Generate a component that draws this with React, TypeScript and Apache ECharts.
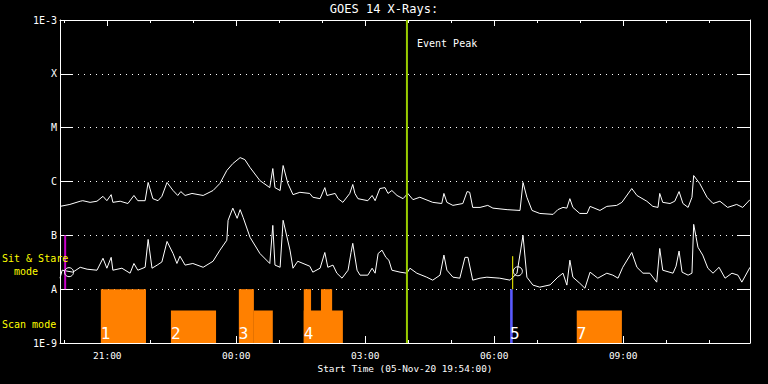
import React, { useEffect, useRef } from 'react';
import * as echarts from 'echarts';

// time axis: hours after 05-Nov-20 00:00 UT
const START_HOUR = 19.9; // 19:54:00
const END_HOUR = 35.95;

const yTickExponents = [-9, -8, -7, -6, -5, -4, -3];
const yTickLabels = ['1E-9', 'A', 'B', 'C', 'M', 'X', '1E-3'];
const xMajorHours = [21, 24, 27, 30, 33];
const xTickLabels = ['21:00', '00:00', '03:00', '06:00', '09:00'];
const xMinorHours = [20, 21, 22, 23, 24, 25, 26, 27, 28, 29, 30, 31, 32, 33, 34, 35];

// GOES 14 long channel (1-8 A), W/m^2
const longChannel: [number, number][] = [
  [19.90, 3.45e-7], [20.13, 3.75e-7], [20.37, 4.3e-7], [20.43, 4.4e-7], [20.60, 4.1e-7], [20.76, 4.3e-7],
  [20.90, 5.3e-7], [20.99, 4.4e-7], [21.09, 5.7e-7], [21.13, 4.1e-7], [21.30, 4.3e-7], [21.48, 3.9e-7],
  [21.62, 5.5e-7], [21.71, 4.4e-7], [21.88, 4.4e-7], [21.95, 9.6e-7], [22.06, 4.8e-7], [22.18, 4.4e-7],
  [22.27, 5.3e-7], [22.39, 9.6e-7], [22.53, 6.8e-7], [22.64, 5.5e-7], [22.71, 6.5e-7], [22.81, 5.5e-7],
  [22.97, 6.0e-7], [23.23, 5.5e-7], [23.46, 6.8e-7], [23.62, 9.2e-7], [23.78, 1.6e-6], [23.92, 2.15e-6],
  [24.09, 2.78e-6], [24.20, 2.55e-6], [24.32, 1.82e-6], [24.55, 1.04e-6], [24.78, 7.7e-7], [24.85, 1.74e-6],
  [24.90, 7.7e-7], [25.02, 6.8e-7], [25.09, 1.98e-6], [25.20, 9.2e-7], [25.32, 5.7e-7], [25.48, 6.3e-7],
  [25.71, 6.0e-7], [25.78, 5.1e-7], [25.95, 4.8e-7], [26.06, 7.7e-7], [26.11, 5.5e-7], [26.30, 6.0e-7],
  [26.37, 4.8e-7], [26.48, 4.1e-7], [26.64, 6.0e-7], [26.71, 8.8e-7], [26.76, 6.0e-7], [26.83, 4.8e-7],
  [27.06, 4.4e-7], [27.16, 5.5e-7], [27.23, 4.4e-7], [27.34, 7.4e-7], [27.46, 7.7e-7], [27.53, 6.0e-7],
  [27.62, 6.8e-7], [27.74, 5.5e-7], [27.88, 4.8e-7], [27.99, 6.0e-7], [28.11, 4.6e-7], [28.27, 5.1e-7],
  [28.57, 4.1e-7], [28.78, 3.9e-7], [28.83, 6.0e-7], [28.90, 4.1e-7], [29.04, 3.6e-7], [29.27, 3.9e-7],
  [29.37, 6.5e-7], [29.43, 6.3e-7], [29.50, 3.3e-7], [29.67, 3.3e-7], [29.85, 3.6e-7], [29.97, 3.2e-7],
  [30.30, 3.0e-7], [30.60, 2.9e-7], [30.67, 9.6e-7], [30.76, 5.1e-7], [30.88, 2.9e-7], [31.06, 2.55e-7],
  [31.37, 2.45e-7], [31.48, 3.0e-7], [31.60, 3.3e-7], [31.69, 3.2e-7], [31.76, 4.8e-7], [31.83, 3.3e-7],
  [31.99, 2.55e-7], [32.16, 2.55e-7], [32.23, 3.45e-7], [32.46, 2.9e-7], [32.62, 3.45e-7], [32.85, 3.6e-7],
  [32.97, 4.1e-7], [33.20, 7.4e-7], [33.32, 5.5e-7], [33.55, 4.3e-7], [33.69, 3.45e-7], [33.81, 3.3e-7],
  [33.85, 6.0e-7], [33.92, 4.1e-7], [34.09, 3.9e-7], [34.20, 4.3e-7], [34.30, 6.5e-7], [34.39, 3.9e-7],
  [34.51, 3.3e-7], [34.60, 5.1e-7], [34.64, 1.29e-6], [34.78, 9.2e-7], [34.95, 5.1e-7], [35.09, 3.9e-7],
  [35.25, 4.3e-7], [35.43, 3.3e-7], [35.64, 3.75e-7], [35.78, 3.3e-7], [35.95, 4.6e-7],
];

// GOES 14 short channel (0.5-4 A), W/m^2
const shortChannel: [number, number][] = [
  [19.90, 1.6e-8], [19.95, 2.25e-8], [20.20, 2.07e-8], [20.37, 2.55e-8], [20.53, 2.35e-8], [20.76, 2.25e-8],
  [20.90, 3.75e-8], [20.99, 2.45e-8], [21.09, 3.9e-8], [21.13, 2.25e-8], [21.34, 2.45e-8], [21.53, 1.98e-8],
  [21.62, 3.0e-8], [21.71, 2.25e-8], [21.88, 2.55e-8], [21.95, 8.4e-8], [22.04, 2.45e-8], [22.16, 2.8e-8],
  [22.27, 3.2e-8], [22.39, 7.7e-8], [22.53, 4.6e-8], [22.62, 3.0e-8], [22.69, 4.1e-8], [22.81, 2.8e-8],
  [22.99, 3.0e-8], [23.23, 2.55e-8], [23.46, 3.3e-8], [23.62, 5.3e-8], [23.78, 8.1e-8], [23.81, 1.9e-7],
  [23.92, 3.2e-7], [24.02, 2.07e-7], [24.09, 3.0e-7], [24.16, 2.15e-7], [24.32, 9.2e-8], [24.55, 4.6e-8],
  [24.78, 3.0e-8], [24.85, 1.53e-7], [24.90, 2.8e-8], [25.02, 2.55e-8], [25.09, 1.9e-7], [25.25, 5.3e-8],
  [25.32, 2.45e-8], [25.43, 3.3e-8], [25.71, 2.67e-8], [25.78, 2.07e-8], [25.95, 2.45e-8], [26.06, 4.8e-8],
  [26.13, 2.55e-8], [26.25, 2.8e-8], [26.34, 1.98e-8], [26.46, 1.6e-8], [26.60, 2.25e-8], [26.67, 4.8e-8],
  [26.71, 7.1e-8], [26.81, 2.25e-8], [26.88, 1.82e-8], [27.06, 1.82e-8], [27.16, 2.45e-8], [27.23, 1.98e-8],
  [27.30, 4.6e-8], [27.39, 5.3e-8], [27.48, 3.9e-8], [27.55, 3.45e-8], [27.62, 2.25e-8], [27.81, 2.07e-8],
  [27.97, 1.98e-8], [28.04, 2.45e-8], [28.20, 1.98e-8], [28.43, 1.67e-8], [28.57, 1.47e-8], [28.74, 1.82e-8],
  [28.83, 4.3e-8], [28.90, 2.25e-8], [29.04, 1.67e-8], [29.20, 1.6e-8], [29.32, 3.9e-8], [29.39, 3.9e-8],
  [29.50, 1.47e-8], [29.67, 1.6e-8], [29.83, 1.67e-8], [30.13, 1.6e-8], [30.37, 1.47e-8], [30.53, 1.98e-8],
  [30.67, 1.0e-7], [30.76, 1.67e-8], [30.90, 1.19e-8], [31.06, 1.09e-8], [31.30, 1.2e-8], [31.48, 1.67e-8],
  [31.60, 1.98e-8], [31.69, 1.19e-8], [31.76, 3.45e-8], [31.83, 1.67e-8], [31.99, 1.29e-8], [32.11, 1.04e-8],
  [32.23, 2.07e-8], [32.41, 1.6e-8], [32.62, 1.98e-8], [32.76, 1.82e-8], [32.88, 1.6e-8], [32.99, 2.55e-8],
  [33.20, 4.8e-8], [33.32, 2.55e-8], [33.46, 1.98e-8], [33.62, 1.98e-8], [33.78, 1.35e-8], [33.85, 5.7e-8],
  [33.92, 2.25e-8], [34.16, 1.98e-8], [34.23, 2.67e-8], [34.30, 5.1e-8], [34.37, 2.07e-8], [34.51, 1.82e-8],
  [34.60, 1.98e-8], [34.64, 1.6e-7], [34.74, 6.0e-8], [34.85, 4.3e-8], [34.97, 2.45e-8], [35.09, 1.98e-8],
  [35.23, 2.55e-8], [35.37, 1.6e-8], [35.53, 1.98e-8], [35.67, 1.82e-8], [35.76, 1.35e-8], [35.95, 2.55e-8],
];

// scan-mode blocks: [start hour, end hour, top level, label]
const scanBlocks: [number, number, number, string][] = [
  [20.85, 21.90, 1e-8, '1'],
  [22.48, 23.53, 4e-9, '2'],
  [24.41, 24.85, 4e-9, ''],
  [24.06, 24.41, 1e-8, '3'],
  [25.57, 26.48, 4e-9, '4'],
  [25.57, 25.74, 1e-8, ''],
  [25.97, 26.23, 1e-8, ''],
  [31.92, 32.97, 4e-9, '7'],
];
const sitStareBlocks: [number, number, number, string][] = [[30.37, 30.43, 1e-8, '5']];

const eventPeakHour = 27.97;
const sitStareStartHour = 20.02;
const sitStareEndHour = 30.43;
const markerPoints: [number, number][] = [[20.11, 2.07e-8], [30.55, 2.15e-8]];

const MONO = "'DejaVu Sans Mono', 'Liberation Mono', monospace";
const Y_MIN = 1e-9;
const Y_MAX = 1e-3;

function blockSeries(data: [number, number, number, string][], color: string) {
  return {
    type: 'custom',
    xAxisIndex: 0,
    yAxisIndex: 0,
    clip: true,
    data,
    renderItem: (params: any, api: any) => {
      const s = api.value(0);
      const e = api.value(1);
      const top = api.value(2);
      const label = data[params.dataIndex][3];
      const p1 = api.coord([s, top]);
      const p2 = api.coord([e, Y_MIN]);
      const children: any[] = [
        {
          type: 'rect',
          shape: { x: p1[0], y: p1[1], width: Math.max(p2[0] - p1[0], 1), height: p2[1] - p1[1] },
          style: { fill: color },
        },
      ];
      if (label) {
        children.push({
          type: 'text',
          z2: 100,
          style: {
            text: label,
            x: p1[0],
            y: p2[1] - 10,
            fill: '#ffffff',
            font: `16px ${MONO}`,
            verticalAlign: 'middle',
            align: 'left',
          },
        });
      }
      return { type: 'group', children };
    },
  };
}

function vline(x: number, y0: number, y1: number, color: string, width: number) {
  return {
    type: 'line',
    xAxisIndex: 0,
    yAxisIndex: 0,
    data: [[x, y0], [x, y1]],
    showSymbol: false,
    symbol: 'none',
    lineStyle: { color, width },
    z: 5,
  };
}

export default function App() {
  const ref = useRef<HTMLDivElement>(null);

  useEffect(() => {
    if (!ref.current) return;
    const chart = echarts.init(ref.current, undefined, { renderer: 'svg' });
    const grid = { left: 60, right: 18, top: 20, bottom: 41 };
    const hourLabel = (v: number) => {
      const i = xMajorHours.indexOf(Math.round(v));
      return i >= 0 ? xTickLabels[i] : '';
    };
    const yLabel = (v: number) => {
      const i = yTickExponents.indexOf(Math.round(Math.log10(v)));
      return i >= 0 ? yTickLabels[i] : '';
    };
    const baseX = {
      type: 'value',
      min: START_HOUR,
      max: END_HOUR,
      splitLine: { show: false },
    };
    const baseY = {
      type: 'log',
      logBase: 10,
      min: Y_MIN,
      max: Y_MAX,
      splitNumber: 6,
    };
    chart.setOption({
      animation: false,
      backgroundColor: '#000000',
      grid,
      xAxis: [
        {
          ...baseX,
          position: 'bottom',
          axisLine: { show: true, lineStyle: { color: '#ffffff', width: 1 } },
          axisTick: { show: true, inside: true, length: 7, customValues: xMajorHours, lineStyle: { color: '#ffffff' } },
          axisLabel: {
            show: true,
            customValues: xMajorHours,
            formatter: hourLabel,
            color: '#ffffff',
            fontFamily: MONO,
            fontSize: 9.5,
            margin: 7,
          },
        },
        {
          ...baseX,
          position: 'bottom',
          axisLine: { show: false },
          axisTick: { show: true, inside: true, length: 3, customValues: xMinorHours, lineStyle: { color: '#ffffff' } },
          axisLabel: { show: false },
        },
        {
          ...baseX,
          position: 'top',
          axisLine: { show: true, lineStyle: { color: '#ffffff', width: 1 } },
          axisTick: { show: true, inside: true, length: 6, customValues: xMajorHours, lineStyle: { color: '#ffffff' } },
          axisLabel: { show: false },
        },
        {
          ...baseX,
          position: 'top',
          axisLine: { show: false },
          axisTick: { show: true, inside: true, length: 3, customValues: xMinorHours, lineStyle: { color: '#ffffff' } },
          axisLabel: { show: false },
        },
      ],
      yAxis: [
        {
          ...baseY,
          position: 'left',
          axisLine: { show: true, lineStyle: { color: '#ffffff', width: 1 } },
          axisTick: { show: true, inside: true, length: 13, lineStyle: { color: '#ffffff' } },
          axisLabel: {
            show: true,
            formatter: yLabel,
            color: '#ffffff',
            fontFamily: MONO,
            fontSize: 10,
            margin: 3,
            showMinLabel: true,
            showMaxLabel: true,
          },
          minorTick: { show: false },
          splitLine: { show: true, lineStyle: { color: '#ffffff', type: [1, 5], width: 1 } },
        },
        {
          ...baseY,
          position: 'right',
          axisLine: { show: true, lineStyle: { color: '#ffffff', width: 1 } },
          axisTick: { show: true, inside: true, length: 13, lineStyle: { color: '#ffffff' } },
          axisLabel: { show: false },
          splitLine: { show: false },
        },
      ],
      graphic: [
        {
          type: 'text', left: 'center', top: 3,
          style: { text: 'GOES 14 X-Rays:', fill: '#ffffff', font: `12px ${MONO}` },
        },
        {
          type: 'text', x: 405, y: 368,
          style: { text: 'Start Time (05-Nov-20 19:54:00)', fill: '#ffffff', font: `9.4px ${MONO}`, align: 'center', verticalAlign: 'middle' },
        },
        {
          type: 'text', x: 417, y: 43,
          style: { text: 'Event Peak', fill: '#ffffff', font: `10px ${MONO}`, align: 'left', verticalAlign: 'middle' },
        },
        {
          type: 'text', x: 2, y: 258, z: 10,
          style: { text: 'Sit & Stare', fill: '#ffff00', font: `10px ${MONO}`, align: 'left', verticalAlign: 'middle' },
        },
        {
          type: 'text', x: 2, y: 271,
          style: { text: '  mode', fill: '#ffff00', font: `10px ${MONO}`, align: 'left', verticalAlign: 'middle' },
        },
        {
          type: 'text', x: 2, y: 324,
          style: { text: 'Scan mode', fill: '#ffff00', font: `10px ${MONO}`, align: 'left', verticalAlign: 'middle' },
        },
      ],
      series: [
        blockSeries(scanBlocks, '#ff8000'),
        blockSeries(sitStareBlocks, '#5a5aff'),
        {
          type: 'line', xAxisIndex: 0, yAxisIndex: 0, data: longChannel, showSymbol: false, symbol: 'none',
          lineStyle: { color: '#ffffff', width: 1 }, z: 3,
        },
        {
          type: 'line', xAxisIndex: 0, yAxisIndex: 0, data: shortChannel, showSymbol: false, symbol: 'none',
          lineStyle: { color: '#ffffff', width: 1 }, z: 3,
        },
        vline(eventPeakHour, Y_MIN, Y_MAX, '#99cc00', 2),
        vline(sitStareStartHour, 1e-8, 1e-7, '#c800c8', 2),
        vline(sitStareEndHour, 1e-8, 4.1e-8, '#ffff00', 1),
        {
          type: 'scatter', xAxisIndex: 0, yAxisIndex: 0, data: markerPoints, symbol: 'circle', symbolSize: 9,
          itemStyle: { color: 'rgba(0,0,0,0)', borderColor: '#ffffff', borderWidth: 1, opacity: 1 },
          z: 6,
        },
      ],
    });
    return () => chart.dispose();
  }, []);

  return (
    <div
      ref={ref}
      style={{ position: 'fixed', left: 0, top: 0, width: 768, height: 384, background: '#000000' }}
    />
  );
}
